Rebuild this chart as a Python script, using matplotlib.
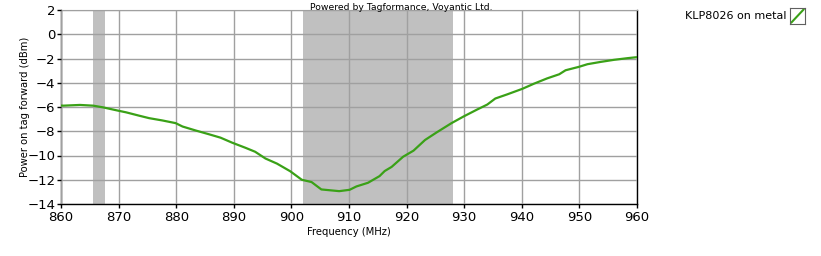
import numpy as np
import matplotlib.pyplot as plt
from matplotlib.lines import Line2D

# data (frequency in MHz, power in dBm)
freq = [860.0, 860.4, 863.3, 865.6, 867.3, 869.9, 871.3, 873.6, 875.3, 877.6, 879.9,
        881.1, 883.4, 885.7, 887.7, 889.7, 892.0, 893.7, 895.5, 897.5, 899.8, 901.8,
        903.5, 905.2, 908.3, 910.1, 911.3, 913.3, 915.3, 916.2, 917.4, 919.4, 921.2,
        923.2, 925.2, 927.8, 929.9, 932.2, 934.0, 935.4, 937.4, 940.1, 942.1, 944.4,
        946.5, 947.6, 949.9, 951.4, 953.7, 956.0, 958.4, 960.0]
power = [-5.88, -5.89, -5.83, -5.89, -6.03, -6.30, -6.44, -6.72, -6.92, -7.11, -7.33,
         -7.61, -7.94, -8.25, -8.53, -8.94, -9.36, -9.69, -10.25, -10.67, -11.30, -12.00,
         -12.19, -12.80, -12.94, -12.83, -12.55, -12.25, -11.70, -11.28, -10.94, -10.10, -9.60,
         -8.72, -8.10, -7.33, -6.78, -6.22, -5.80, -5.30, -4.97, -4.50, -4.08, -3.64,
         -3.30, -2.97, -2.69, -2.47, -2.28, -2.11, -1.97, -1.89]

# shaded frequency bands
bands = [(865.6, 867.6), (902.0, 928.0)]

series_label = "KLP8026 on metal"
green = "#3aa117"

fig = plt.figure(figsize=(8.21, 2.56), dpi=100)
ax = fig.add_axes([61 / 821, 1 - 204 / 256, 576 / 821, 194 / 256])

for lo, hi in bands:
    ax.axvspan(lo, hi, color="#c0c0c0", lw=0, zorder=0)

ax.plot(freq, power, color=green, lw=1.6, zorder=3)

ax.set_xlim(860, 960)
ax.set_ylim(-14, 2)
ax.set_xticks(np.arange(860, 961, 10))
ax.set_yticks(np.arange(-14, 3, 2))
ax.grid(True, color="#a0a0a0", lw=1.0, zorder=1)
ax.set_axisbelow(False)

for side in ["left", "bottom", "right"]:
    ax.spines[side].set_color("black")
    ax.spines[side].set_linewidth(1.0)
ax.spines["top"].set_color("#a0a0a0")
ax.tick_params(axis="both", direction="out", length=3, width=1, labelsize=9.5, pad=1)
ax.tick_params(axis="x", pad=2)

ax.set_xlabel("Frequency (MHz)", fontsize=7.2, labelpad=2)
ax.set_ylabel("Power on tag forward (dBm)", fontsize=7.2)
ax.yaxis.set_label_coords(-31 / 576, 0.5)

fig.text(401 / 821, 1 - 7 / 256, "Powered by Tagformance, Voyantic Ltd.",
         ha="center", va="center", fontsize=6.7)

# legend: text plus small boxed icon
fig.text(786 / 821, 1 - 16 / 256, series_label, ha="right", va="center", fontsize=8)
lax = fig.add_axes([790 / 821, 1 - 24 / 256, 15 / 821, 16 / 256])
lax.set_xlim(0, 1)
lax.set_ylim(0, 1)
lax.set_xticks([])
lax.set_yticks([])
for s in lax.spines.values():
    s.set_color("#606060")
    s.set_linewidth(0.8)
lax.add_line(Line2D([0.1, 0.9], [0.1, 0.9], color=green, lw=1.5))

fig.savefig("out.png", dpi=100)
